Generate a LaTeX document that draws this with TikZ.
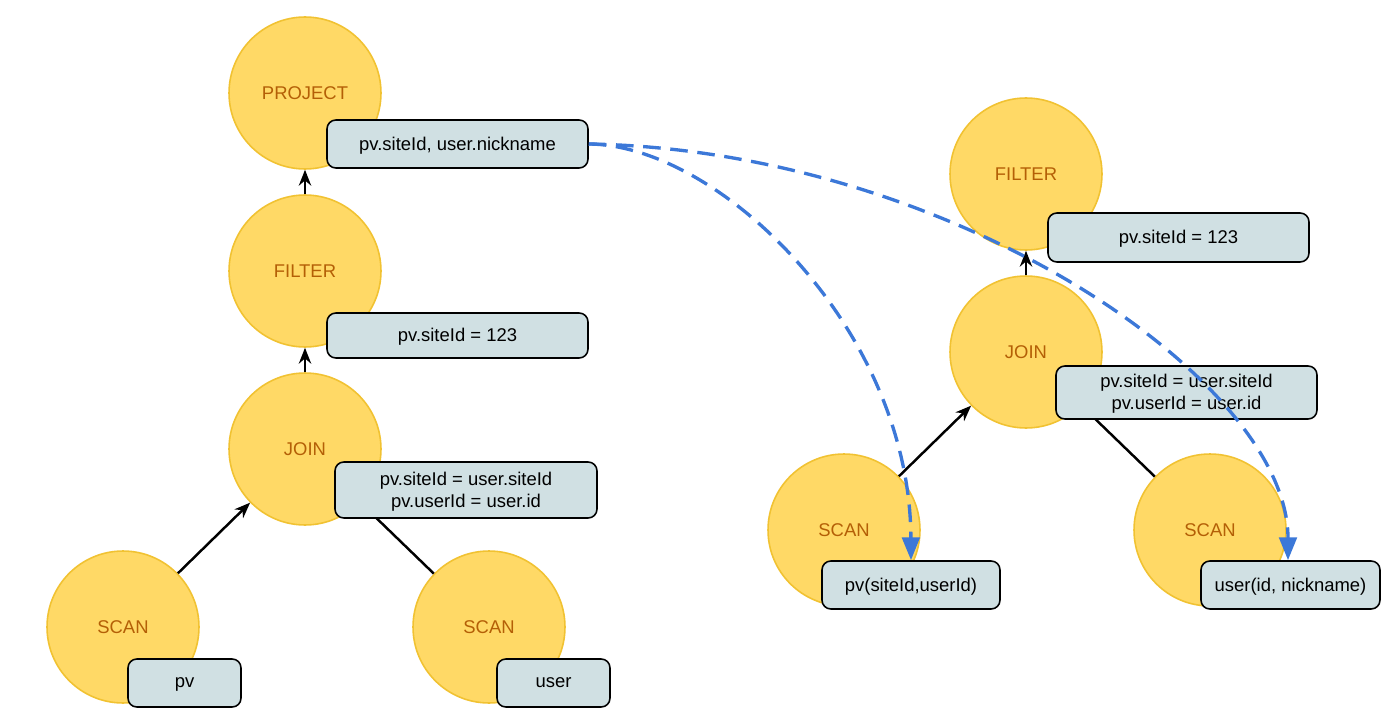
\documentclass[tikz,border=0pt]{standalone}
\usepackage{fontspec}
\setmainfont{Liberation Sans}
\usetikzlibrary{arrows.meta}
\definecolor{opfill}{HTML}{FFD966}
\definecolor{opline}{HTML}{F1C232}
\definecolor{optext}{HTML}{B45F06}
\definecolor{infofill}{HTML}{D0E0E3}
\definecolor{pushblue}{HTML}{3C78D8}
\begin{document}
\begin{tikzpicture}[x=0.02cm,y=-0.02cm,font=\fontsize{10.5}{12.6}\selectfont,
op/.style={circle,fill=opfill,draw=opline,line width=0.9pt,minimum size=3.04cm,text=optext,inner sep=0pt},
info/.style={rounded corners=5pt,fill=infofill,draw=black,line width=0.9pt,minimum width=#1,align=center,inner sep=0pt,text depth=0.1ex},
info/.default=5.22cm,
edge/.style={line width=1.4pt,-{Stealth[length=9pt,width=7pt]}},
push/.style={pushblue,line width=1.9pt,dash pattern=on 10pt off 5.5pt,-{Triangle[width=10pt,length=13pt]}}]
\useasboundingbox(0,0)rectangle(1397,713);
\node[op](projL)at(305,93){PROJECT};
\node[op](filterL)at(305,271){FILTER};
\node[op](joinL)at(305,449){JOIN};
\node[op](scanPvL)at(123,627){SCAN};
\node[op](scanUserL)at(489,627){SCAN};
\node[op](filterR)at(1026,174){FILTER};
\node[op](joinR)at(1026,352){JOIN};
\node[op](scanPvR)at(844,530){SCAN};
\node[op](scanUserR)at(1210,530){SCAN};
\draw[edge](filterL)--(projL);
\draw[edge](joinL)--(filterL);
\draw[edge](scanPvL)--(joinL);
\draw[line width=1.4pt](joinL)--(scanUserL);
\draw[edge](joinR)--(filterR);
\draw[edge](scanPvR)--(joinR);
\draw[line width=1.4pt](joinR)--(scanUserR);
\node[info,minimum height=0.96cm](projInfo)at(457.5,144){pv.siteId, user.nickname};
\node[info,minimum height=0.9cm](filterInfoL)at(457.5,335.5){pv.siteId = 123};
\node[info=5.24cm,minimum height=1.12cm](joinInfoL)at(466,490){pv.siteId = user.siteId\\pv.userId = user.id};
\node[info=2.26cm,minimum height=0.96cm](pvInfoL)at(184.5,683){pv};
\node[info=2.26cm,minimum height=0.96cm](userInfoL)at(553.5,683){user};
\node[info,minimum height=0.98cm](filterInfoR)at(1178.5,237.5){pv.siteId = 123};
\node[info,minimum height=1.06cm](joinInfoR)at(1186.5,392.5){pv.siteId = user.siteId\\pv.userId = user.id};
\node[info=3.56cm,minimum height=0.96cm](pvInfoR)at(911,585){pv(siteId,userId)};
\node[info=3.58cm,minimum height=0.96cm](userInfoR)at(1290.5,585){user(id, nickname)};
\draw[push](projInfo.east)..controls(720,145)and(910,330)..(pvInfoR.north);
\draw[push](projInfo.east)..controls(950,150)and(1288,380)..(pvInfoR.north-|1288,0);
\end{tikzpicture}
\end{document}
